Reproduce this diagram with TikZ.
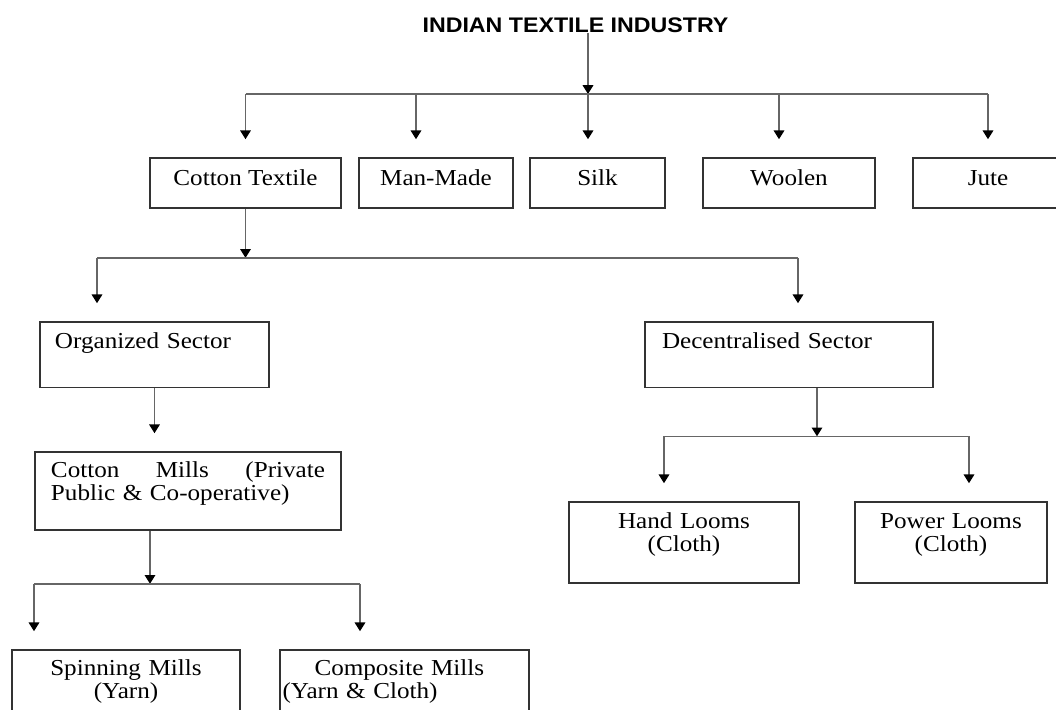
\documentclass[tikz,border=0pt]{standalone}
\usepackage{fontspec}
\setmainfont{Liberation Serif}[FakeStretch=1.1]
\newfontfamily\titlefont{Liberation Sans}[FakeStretch=1.1]
\usetikzlibrary{arrows.meta}
\tikzset{
  box/.style={draw=black!80, line width=0.9pt, inner ysep=0pt},
  link/.style={draw=black!60, line width=0.9pt},
  arr/.style={link, -{Triangle[width=6pt,length=5pt,black]}},
  drop/.style={arr, shorten >=3.6mm},
}
\begin{document}
\begin{tikzpicture}[x=0.2mm, y=-0.2mm, font=\fontsize{13}{13.5}\selectfont]
  \clip (0,0) rectangle (1056,709);
  % title
  \node[inner sep=0pt, font=\titlefont\bfseries\fontsize{12}{14}\selectfont] (title) at (575.5,25) {INDIAN TEXTILE INDUSTRY};
  % first row
  \node[box, minimum width=38.2mm, text height=5.4mm, text depth=4.6mm] (cotton) at (245.5,183) {Cotton Textile};
  \node[box, minimum width=30.8mm, text height=5.4mm, text depth=4.6mm] (manmade) at (436,183) {Man-Made};
  \node[box, minimum width=27mm, text height=5.4mm, text depth=4.6mm] (silk) at (597.5,183) {Silk};
  \node[box, minimum width=34.4mm, text height=5.4mm, text depth=4.6mm] (woolen) at (789,183) {Woolen};
  \node[box, minimum width=30mm, text height=5.4mm, text depth=4.6mm] (jute) at (988,183) {Jute};
  % sectors
  \node[box, inner xsep=3mm, text width=39.8mm, align=left, text height=5.2mm, text depth=7.9mm] (org) at (154.5,354.75) {Organized Sector};
  \node[box, inner xsep=3.4mm, text width=50.8mm, align=left, text height=5.2mm, text depth=7.9mm] (dec) at (789,354.75) {Decentralised Sector};
  % mills and looms
  \node[box, inner xsep=3.2mm, text width=54.8mm, align=left, text height=5mm, text depth=10.6mm] (mills) at (188,491) {Cotton\hfill Mills\hfill (Private\\Public \& Co-operative)};
  \node[box, inner xsep=2mm, text width=42mm, align=center, text height=5.2mm, text depth=11mm] (hand) at (684,542.5) {Hand Looms\\(Cloth)};
  \node[box, inner xsep=2mm, text width=34.4mm, align=center, text height=5.2mm, text depth=11mm] (power) at (951,542.5) {Power Looms\\(Cloth)};
  \node[box, inner xsep=2mm, text width=41.6mm, align=center, text height=5mm, text depth=11mm] (spin) at (126,690) {Spinning Mills\\(Yarn)};
  \node[box, inner xsep=0.5mm, text width=48.8mm, align=left, text height=5mm, text depth=11mm] (comp) at (404.5,690) {\hspace*{6.4mm}Composite Mills\\(Yarn \& Cloth)};

  % industry to branches
  \coordinate (hub) at (588,94);
  \draw[arr] (title.south -| hub) -- (hub);
  \draw[link] (hub -| cotton) -- (hub -| jute);
  \foreach \b/\s in {cotton/0mm, manmade/-4mm, silk/-1.9mm, woolen/-2mm, jute/0mm}
    \draw[drop] ([xshift=\s]\b.north |- hub) -- ([xshift=\s]\b.north);

  % cotton to sectors
  \coordinate (hubb) at ([yshift=-9.8mm]cotton.south);
  \draw[arr] (cotton.south) -- (hubb);
  \draw[link] ([xshift=-11.5mm]org.north |- hubb) -- ([xshift=1.8mm]dec.north |- hubb);
  \draw[drop] ([xshift=-11.5mm]org.north |- hubb) -- ([xshift=-11.5mm]org.north);
  \draw[drop] ([xshift=1.8mm]dec.north |- hubb) -- ([xshift=1.8mm]dec.north);

  % organized sector
  \draw[drop] (org.south) -- (org.south |- mills.north);
  \coordinate (hubc) at ([xshift=-7.6mm, yshift=-10.6mm]mills.south);
  \draw[arr] ([xshift=-7.6mm]mills.south) -- (hubc);
  \draw[link] ([xshift=-18.4mm]spin.north |- hubc) -- ([xshift=-8.9mm]comp.north |- hubc);
  \draw[drop] ([xshift=-18.4mm]spin.north |- hubc) -- ([xshift=-18.4mm]spin.north);
  \draw[drop] ([xshift=-8.9mm]comp.north |- hubc) -- ([xshift=-8.9mm]comp.north);

  % decentralised sector
  \coordinate (hubd) at ([xshift=5.6mm, yshift=-9.6mm]dec.south);
  \draw[arr] ([xshift=5.6mm]dec.south) -- (hubd);
  \draw[link] ([xshift=-4mm]hand.north |- hubd) -- ([xshift=3.6mm]power.north |- hubd);
  \draw[drop] ([xshift=-4mm]hand.north |- hubd) -- ([xshift=-4mm]hand.north);
  \draw[drop] ([xshift=3.6mm]power.north |- hubd) -- ([xshift=3.6mm]power.north);
\end{tikzpicture}
\end{document}
